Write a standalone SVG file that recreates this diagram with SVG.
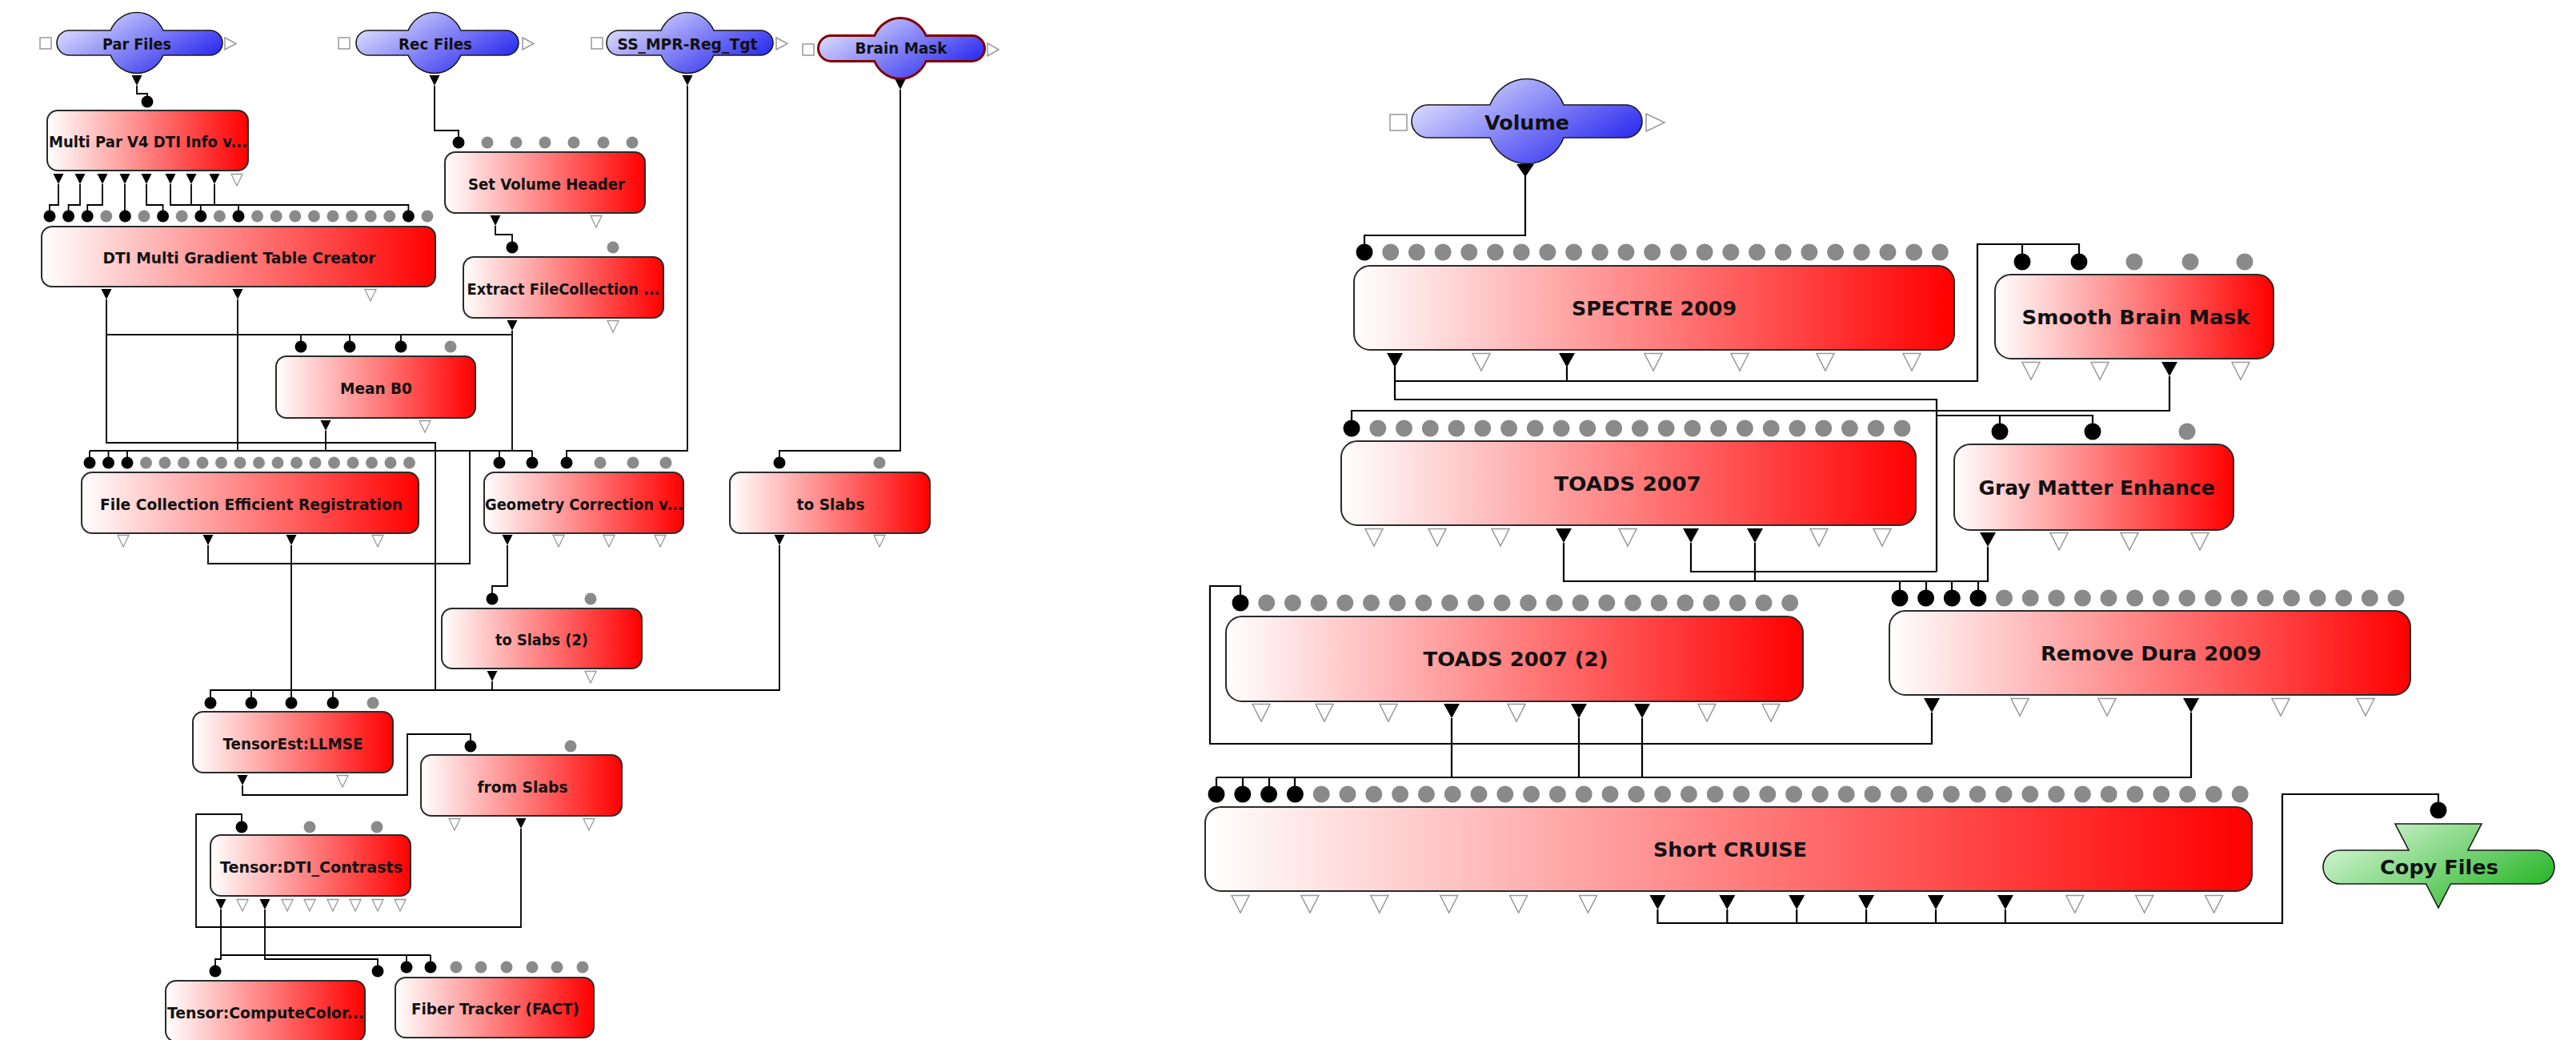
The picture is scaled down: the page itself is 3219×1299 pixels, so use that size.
<svg xmlns="http://www.w3.org/2000/svg" width="3219" height="1299" viewBox="0 0 3219 1299">
<style>
.box{stroke:#2b2b2b;stroke-width:2}
.inp{stroke:#1a1a1a;stroke-width:1.6}
.lt{font-family:"DejaVu Sans","Liberation Sans",sans-serif;font-weight:bold;font-size:19px;text-anchor:middle;fill:#111}
.rt{font-family:"DejaVu Sans","Liberation Sans",sans-serif;font-weight:bold;font-size:25px;text-anchor:middle;fill:#111}
.cl{fill:none;stroke:#000;stroke-width:1.8}
.cr{fill:none;stroke:#000;stroke-width:2.2}
.sq{fill:#fff;stroke:#999;stroke-width:1.5}
</style>
<defs>
<linearGradient id="gR" x1="0" y1="0" x2="1" y2="0"><stop offset="0" stop-color="#ffffff"/><stop offset="1" stop-color="#ff0000"/></linearGradient>
<linearGradient id="gB" x1="0" y1="0.2" x2="1" y2="0.8"><stop offset="0" stop-color="#e4e4ff"/><stop offset="1" stop-color="#1e1eee"/></linearGradient>
<linearGradient id="gG" x1="0" y1="0.2" x2="1" y2="0.8"><stop offset="0" stop-color="#d8f6d8"/><stop offset="1" stop-color="#1fb31f"/></linearGradient>
<circle id="a1" r="7.5" fill="#000"/>
<circle id="a0" r="7.5" fill="#8a8a8a"/>
<circle id="b1" r="10.5" fill="#000"/>
<circle id="b0" r="10.5" fill="#8a8a8a"/>
<path id="ts1" d="M-6.5,0H6.5L0,13Z" fill="#000"/>
<path id="ts0" d="M-7,0.5H7L0,15Z" fill="#fff" stroke="#999" stroke-width="1.3"/>
<path id="tl1" d="M-10,0H10L0,18Z" fill="#000"/>
<path id="tl0" d="M-11,0.5H11L0,22Z" fill="#fff" stroke="#999" stroke-width="1.5"/>
</defs>
<rect width="3219" height="1299" fill="#fff"/>

<g id="connectors">
<path class="cl" d="M171,107V117H184V127"/>
<path class="cl" d="M543,107V163H573V178"/>
<path class="cl" d="M859,107V563H708V578"/>
<path class="cl" d="M1125,112V563H974V578"/>
<path class="cl" d="M73,230V256H62V270"/>
<path class="cl" d="M100,230V256H85.6V270"/>
<path class="cl" d="M128,230V256H109.2V270"/>
<path class="cl" d="M156,230V270"/>
<path class="cl" d="M183,230V256H203.6V270"/>
<path class="cl" d="M213,230V256H250.8V270"/>
<path class="cl" d="M239,230V256H298V270"/>
<path class="cl" d="M268,230V256H510.4V270"/>
<path class="cl" d="M619,282V293H640V309"/>
<path class="cl" d="M640,413V563"/>
<path class="cl" d="M133,418H640"/>
<path class="cl" d="M376,418V433M437,418V433M501,418V433"/>
<path class="cl" d="M133,374V553H544V862"/>
<path class="cl" d="M297,374V563"/>
<path class="cl" d="M112,563H665M112,563V578M135.5,563V578M159,563V578M624,563V578M665,563V578"/>
<path class="cl" d="M407,538V563"/>
<path class="cl" d="M260,681V704H587V563"/>
<path class="cl" d="M364,681V878"/>
<path class="cl" d="M634,681V732H615V748"/>
<path class="cl" d="M974,681V862H263V878"/>
<path class="cl" d="M615,851V862"/>
<path class="cl" d="M314,862V878M416,862V878"/>
<path class="cl" d="M303,981V993H509V917H588V932"/>
<path class="cl" d="M651,1035V1158H245V1017H302V1033"/>
<path class="cl" d="M276,1136V1198H269V1213M276,1193H538M508,1193V1208M538,1193V1208"/>
<path class="cl" d="M331,1136V1198H472V1213"/>

<path class="cr" d="M1906,220V294H1705V315"/>
<path class="cr" d="M1743,458V499H2420V714"/>
<path class="cr" d="M1958,458V476"/>
<path class="cr" d="M1743,476H2471V305H2598V327M2527,305V327"/>
<path class="cr" d="M2420,519H2615V539M2499,519V539"/>
<path class="cr" d="M2711,470V513H1689V535"/>
<path class="cr" d="M2113,678V714H2420"/>
<path class="cr" d="M1954,678V726H2484V683M2193,678V726"/>
<path class="cr" d="M2374,726V747M2407,726V747M2439,726V747M2472,726V747"/>
<path class="cr" d="M2414,890V929H1512V732H1550V753"/>
<path class="cr" d="M1520,971H2738V890M1814,897V971M1973,897V971M2052,897V971"/>
<path class="cr" d="M1520,971V992M1553,971V992M1586,971V992M1618,971V992"/>
<path class="cr" d="M2071.4,1136V1153H2852V992H3047V1012"/>
<path class="cr" d="M2158.3,1136V1153M2245.2,1136V1153M2332.1,1136V1153M2419,1136V1153M2505.9,1136V1153"/>
</g>

<g id="par-files">
<rect class="sq" x="50" y="47" width="14" height="14"/>
<path class="sq" d="M281,47L295,54.5L281,62Z"/>
<path class="inp" fill="url(#gB)" d="M86.5,38H138.1A36,38 0 0 1 203.9,38H262.5A15.5,15.5 0 0 1 262.5,69H203.9A36,38 0 0 1 138.1,69H86.5A15.5,15.5 0 0 1 86.5,38Z"/>
<text class="lt" x="171" y="62" textLength="86" lengthAdjust="spacingAndGlyphs">Par Files</text>
<use href="#ts1" x="171" y="94"/>
</g>

<g id="rec-files">
<rect class="sq" x="423" y="47" width="14" height="14"/>
<path class="sq" d="M653,47L667,54.5L653,62Z"/>
<path class="inp" fill="url(#gB)" d="M460.5,38H510.1A36,38 0 0 1 575.9,38H632.5A15.5,15.5 0 0 1 632.5,69H575.9A36,38 0 0 1 510.1,69H460.5A15.5,15.5 0 0 1 460.5,38Z"/>
<text class="lt" x="544" y="62" textLength="92" lengthAdjust="spacingAndGlyphs">Rec Files</text>
<use href="#ts1" x="543" y="94"/>
</g>

<g id="ss-mpr-reg-tgt">
<rect class="sq" x="739" y="47" width="14" height="14"/>
<path class="sq" d="M970,47L984,54.5L970,62Z"/>
<path class="inp" fill="url(#gB)" d="M773.5,38H826.1A36,38 0 0 1 891.9,38H950.5A15.5,15.5 0 0 1 950.5,69H891.9A36,38 0 0 1 826.1,69H773.5A15.5,15.5 0 0 1 773.5,38Z"/>
<text class="lt" x="859" y="62" textLength="175" lengthAdjust="spacingAndGlyphs">SS_MPR-Reg_Tgt</text>
<use href="#ts1" x="859" y="94"/>
</g>

<g id="brain-mask">
<rect class="sq" x="1003" y="55" width="14" height="14"/>
<path class="sq" d="M1234,54L1248,62L1234,70Z"/>
<path fill="url(#gB)" stroke="#800000" stroke-width="3" d="M1038.5,44.5H1092.8A35.5,38 0 0 1 1157.2,44.5H1214.5A16,16 0 0 1 1214.5,76.5H1157.2A35.5,38 0 0 1 1092.8,76.5H1038.5A16,16 0 0 1 1038.5,44.5Z"/>
<text class="lt" x="1126" y="67" textLength="115" lengthAdjust="spacingAndGlyphs">Brain Mask</text>
<use href="#ts1" x="1125" y="99"/>
</g>

<g id="multi-par">
<rect class="box" fill="url(#gR)" x="59" y="138" width="251" height="75" rx="13"/>
<text class="lt" x="185" y="184" textLength="248" lengthAdjust="spacingAndGlyphs">Multi Par V4 DTI Info v...</text>
<use href="#a1" x="184" y="127"/>
<use href="#ts1" x="73" y="217"/><use href="#ts1" x="100" y="217"/><use href="#ts1" x="128" y="217"/><use href="#ts1" x="156" y="217"/><use href="#ts1" x="183" y="217"/><use href="#ts1" x="213" y="217"/><use href="#ts1" x="239" y="217"/><use href="#ts1" x="268" y="217"/><use href="#ts0" x="296" y="217"/>
</g>

<g id="dti-multi-gradient">
<rect class="box" fill="url(#gR)" x="52" y="283" width="492" height="75" rx="13"/>
<text class="lt" x="299" y="329" textLength="341" lengthAdjust="spacingAndGlyphs">DTI Multi Gradient Table Creator</text>
<use href="#a1" x="62" y="270"/><use href="#a1" x="85.6" y="270"/><use href="#a1" x="109.2" y="270"/><use href="#a0" x="132.8" y="270"/><use href="#a1" x="156.4" y="270"/><use href="#a0" x="180" y="270"/><use href="#a1" x="203.6" y="270"/><use href="#a0" x="227.2" y="270"/><use href="#a1" x="250.8" y="270"/><use href="#a0" x="274.4" y="270"/><use href="#a1" x="298" y="270"/><use href="#a0" x="321.6" y="270"/><use href="#a0" x="345.2" y="270"/><use href="#a0" x="368.8" y="270"/><use href="#a0" x="392.4" y="270"/><use href="#a0" x="416" y="270"/><use href="#a0" x="439.6" y="270"/><use href="#a0" x="463.2" y="270"/><use href="#a0" x="486.8" y="270"/><use href="#a1" x="510.4" y="270"/><use href="#a0" x="534" y="270"/>
<use href="#ts1" x="133" y="361"/><use href="#ts1" x="297" y="361"/><use href="#ts0" x="463" y="361"/>
</g>

<g id="set-volume-header">
<rect class="box" fill="url(#gR)" x="556" y="190" width="250" height="76" rx="13"/>
<text class="lt" x="683" y="237" textLength="196" lengthAdjust="spacingAndGlyphs">Set Volume Header</text>
<use href="#a1" x="573" y="178"/><use href="#a0" x="609" y="178"/><use href="#a0" x="645" y="178"/><use href="#a0" x="681" y="178"/><use href="#a0" x="717" y="178"/><use href="#a0" x="754" y="178"/><use href="#a0" x="790" y="178"/>
<use href="#ts1" x="619" y="269"/><use href="#ts0" x="745" y="269"/>
</g>

<g id="extract-filecollection">
<rect class="box" fill="url(#gR)" x="579" y="321" width="250" height="76" rx="13"/>
<text class="lt" x="704" y="368" textLength="241" lengthAdjust="spacingAndGlyphs">Extract FileCollection ...</text>
<use href="#a1" x="640" y="309"/><use href="#a0" x="766" y="309"/>
<use href="#ts1" x="640" y="400"/><use href="#ts0" x="766" y="400"/>
</g>

<g id="mean-b0">
<rect class="box" fill="url(#gR)" x="345" y="445" width="249" height="77" rx="13"/>
<text class="lt" x="470" y="492" textLength="90" lengthAdjust="spacingAndGlyphs">Mean B0</text>
<use href="#a1" x="376" y="433"/><use href="#a1" x="437" y="433"/><use href="#a1" x="501" y="433"/><use href="#a0" x="563" y="433"/>
<use href="#ts1" x="407" y="525"/><use href="#ts0" x="531" y="525"/>
</g>

<g id="file-collection-registration">
<rect class="box" fill="url(#gR)" x="102" y="590" width="421" height="76" rx="13"/>
<text class="lt" x="314" y="637" textLength="378" lengthAdjust="spacingAndGlyphs">File Collection Efficient Registration</text>
<use href="#a1" x="112" y="578"/><use href="#a1" x="135.5" y="578"/><use href="#a1" x="159" y="578"/><use href="#a0" x="182.5" y="578"/><use href="#a0" x="206" y="578"/><use href="#a0" x="229.5" y="578"/><use href="#a0" x="253" y="578"/><use href="#a0" x="276.5" y="578"/><use href="#a0" x="300" y="578"/><use href="#a0" x="323.5" y="578"/><use href="#a0" x="347" y="578"/><use href="#a0" x="370.5" y="578"/><use href="#a0" x="394" y="578"/><use href="#a0" x="417.5" y="578"/><use href="#a0" x="441" y="578"/><use href="#a0" x="464.5" y="578"/><use href="#a0" x="488" y="578"/><use href="#a0" x="511.5" y="578"/>
<use href="#ts0" x="154" y="668"/><use href="#ts1" x="260" y="668"/><use href="#ts1" x="364" y="668"/><use href="#ts0" x="472" y="668"/>
</g>

<g id="geometry-correction">
<rect class="box" fill="url(#gR)" x="605" y="590" width="249" height="76" rx="13"/>
<text class="lt" x="730" y="637" textLength="248" lengthAdjust="spacingAndGlyphs">Geometry Correction v...</text>
<use href="#a1" x="624" y="578"/><use href="#a1" x="665" y="578"/><use href="#a1" x="708" y="578"/><use href="#a0" x="750" y="578"/><use href="#a0" x="791" y="578"/><use href="#a0" x="832" y="578"/>
<use href="#ts1" x="634" y="668"/><use href="#ts0" x="698" y="668"/><use href="#ts0" x="761" y="668"/><use href="#ts0" x="825" y="668"/>
</g>

<g id="to-slabs">
<rect class="box" fill="url(#gR)" x="912" y="590" width="250" height="76" rx="13"/>
<text class="lt" x="1038" y="637" textLength="85" lengthAdjust="spacingAndGlyphs">to Slabs</text>
<use href="#a1" x="974" y="578"/><use href="#a0" x="1099" y="578"/>
<use href="#ts1" x="974" y="668"/><use href="#ts0" x="1099" y="668"/>
</g>

<g id="to-slabs-2">
<rect class="box" fill="url(#gR)" x="552" y="760" width="250" height="75" rx="13"/>
<text class="lt" x="677" y="806" textLength="116" lengthAdjust="spacingAndGlyphs">to Slabs (2)</text>
<use href="#a1" x="615" y="748"/><use href="#a0" x="738" y="748"/>
<use href="#ts1" x="615" y="838"/><use href="#ts0" x="738" y="838"/>
</g>

<g id="tensorest-llmse">
<rect class="box" fill="url(#gR)" x="241" y="889" width="250" height="76" rx="13"/>
<text class="lt" x="366" y="936" textLength="175" lengthAdjust="spacingAndGlyphs">TensorEst:LLMSE</text>
<use href="#a1" x="263" y="878"/><use href="#a1" x="314" y="878"/><use href="#a1" x="364" y="878"/><use href="#a1" x="416" y="878"/><use href="#a0" x="466" y="878"/>
<use href="#ts1" x="303" y="968"/><use href="#ts0" x="428" y="968"/>
</g>

<g id="from-slabs">
<rect class="box" fill="url(#gR)" x="526" y="943" width="251" height="76" rx="13"/>
<text class="lt" x="653" y="990" textLength="113" lengthAdjust="spacingAndGlyphs">from Slabs</text>
<use href="#a1" x="588" y="932"/><use href="#a0" x="713" y="932"/>
<use href="#ts0" x="568" y="1022"/><use href="#ts1" x="651" y="1022"/><use href="#ts0" x="736" y="1022"/>
</g>

<g id="tensor-dti-contrasts">
<rect class="box" fill="url(#gR)" x="263" y="1043" width="250" height="76" rx="13"/>
<text class="lt" x="389" y="1090" textLength="228" lengthAdjust="spacingAndGlyphs">Tensor:DTI_Contrasts</text>
<use href="#a1" x="302" y="1033"/><use href="#a0" x="387" y="1033"/><use href="#a0" x="471" y="1033"/>
<use href="#ts1" x="276" y="1123"/><use href="#ts0" x="303" y="1123"/><use href="#ts1" x="331" y="1123"/><use href="#ts0" x="359" y="1123"/><use href="#ts0" x="387" y="1123"/><use href="#ts0" x="416" y="1123"/><use href="#ts0" x="444" y="1123"/><use href="#ts0" x="472" y="1123"/><use href="#ts0" x="500" y="1123"/>
</g>

<g id="tensor-computecolor">
<rect class="box" fill="url(#gR)" x="207" y="1225" width="249" height="76" rx="13"/>
<text class="lt" x="332" y="1272" textLength="246" lengthAdjust="spacingAndGlyphs">Tensor:ComputeColor...</text>
<use href="#a1" x="269" y="1213"/><use href="#a1" x="472" y="1213"/>
</g>

<g id="fiber-tracker">
<rect class="box" fill="url(#gR)" x="494" y="1221" width="248" height="75" rx="13"/>
<text class="lt" x="619" y="1267" textLength="210" lengthAdjust="spacingAndGlyphs">Fiber Tracker (FACT)</text>
<use href="#a1" x="508" y="1208"/><use href="#a1" x="538" y="1208"/><use href="#a0" x="570" y="1208"/><use href="#a0" x="601" y="1208"/><use href="#a0" x="633" y="1208"/><use href="#a0" x="665" y="1208"/><use href="#a0" x="696" y="1208"/><use href="#a0" x="728" y="1208"/>
</g>

<g id="volume">
<rect class="sq" x="1737" y="143" width="21" height="20"/>
<path class="sq" d="M2057,142L2080,153L2057,164Z"/>
<path class="inp" fill="url(#gB)" d="M1784.5,131H1861.9A50,53 0 0 1 1954.1,131H2031.5A20.5,20.5 0 0 1 2031.5,172H1954.1A50,53 0 0 1 1861.9,172H1784.5A20.5,20.5 0 0 1 1784.5,131Z"/>
<text class="rt" x="1908" y="162" textLength="106" lengthAdjust="spacingAndGlyphs">Volume</text>
<path d="M1895,205H1917L1906,221Z" fill="#000"/>
</g>

<g id="spectre-2009">
<rect class="box" fill="url(#gR)" x="1692" y="332" width="750" height="105" rx="20"/>
<text class="rt" x="2067" y="394" textLength="206" lengthAdjust="spacingAndGlyphs">SPECTRE 2009</text>
<use href="#b1" x="1705" y="315"/><use href="#b0" x="1737.7" y="315"/><use href="#b0" x="1770.4" y="315"/><use href="#b0" x="1803.1" y="315"/><use href="#b0" x="1835.8" y="315"/><use href="#b0" x="1868.5" y="315"/><use href="#b0" x="1901.2" y="315"/><use href="#b0" x="1933.9" y="315"/><use href="#b0" x="1966.6" y="315"/><use href="#b0" x="1999.3" y="315"/><use href="#b0" x="2032" y="315"/><use href="#b0" x="2064.7" y="315"/><use href="#b0" x="2097.4" y="315"/><use href="#b0" x="2130.1" y="315"/><use href="#b0" x="2162.8" y="315"/><use href="#b0" x="2195.5" y="315"/><use href="#b0" x="2228.2" y="315"/><use href="#b0" x="2260.9" y="315"/><use href="#b0" x="2293.6" y="315"/><use href="#b0" x="2326.3" y="315"/><use href="#b0" x="2359" y="315"/><use href="#b0" x="2391.7" y="315"/><use href="#b0" x="2424.4" y="315"/>
<use href="#tl1" x="1743" y="441"/><use href="#tl0" x="1851" y="441"/><use href="#tl1" x="1958" y="441"/><use href="#tl0" x="2066" y="441"/><use href="#tl0" x="2174" y="441"/><use href="#tl0" x="2281" y="441"/><use href="#tl0" x="2389" y="441"/>
</g>

<g id="smooth-brain-mask">
<rect class="box" fill="url(#gR)" x="2493" y="343" width="348" height="105" rx="20"/>
<text class="rt" x="2669" y="405" textLength="285" lengthAdjust="spacingAndGlyphs">Smooth Brain Mask</text>
<use href="#b1" x="2527" y="327"/><use href="#b1" x="2598" y="327"/><use href="#b0" x="2667" y="327"/><use href="#b0" x="2737" y="327"/><use href="#b0" x="2805" y="327"/>
<use href="#tl0" x="2538" y="452"/><use href="#tl0" x="2624" y="452"/><use href="#tl1" x="2711" y="452"/><use href="#tl0" x="2800" y="452"/>
</g>

<g id="toads-2007">
<rect class="box" fill="url(#gR)" x="1676" y="551" width="718" height="105" rx="20"/>
<text class="rt" x="2034" y="613" textLength="184" lengthAdjust="spacingAndGlyphs">TOADS 2007</text>
<use href="#b1" x="1689" y="535"/><use href="#b0" x="1721.8" y="535"/><use href="#b0" x="1754.5" y="535"/><use href="#b0" x="1787.3" y="535"/><use href="#b0" x="1820" y="535"/><use href="#b0" x="1852.8" y="535"/><use href="#b0" x="1885.6" y="535"/><use href="#b0" x="1918.3" y="535"/><use href="#b0" x="1951.1" y="535"/><use href="#b0" x="1983.8" y="535"/><use href="#b0" x="2016.6" y="535"/><use href="#b0" x="2049.4" y="535"/><use href="#b0" x="2082.1" y="535"/><use href="#b0" x="2114.9" y="535"/><use href="#b0" x="2147.6" y="535"/><use href="#b0" x="2180.4" y="535"/><use href="#b0" x="2213.2" y="535"/><use href="#b0" x="2245.9" y="535"/><use href="#b0" x="2278.7" y="535"/><use href="#b0" x="2311.4" y="535"/><use href="#b0" x="2344.2" y="535"/><use href="#b0" x="2377" y="535"/>
<use href="#tl0" x="1717" y="660"/><use href="#tl0" x="1796" y="660"/><use href="#tl0" x="1875" y="660"/><use href="#tl1" x="1954" y="660"/><use href="#tl0" x="2034" y="660"/><use href="#tl1" x="2113" y="660"/><use href="#tl1" x="2193" y="660"/><use href="#tl0" x="2273" y="660"/><use href="#tl0" x="2352" y="660"/>
</g>

<g id="gray-matter-enhance">
<rect class="box" fill="url(#gR)" x="2442" y="555" width="349" height="107" rx="20"/>
<text class="rt" x="2620" y="618" textLength="295" lengthAdjust="spacingAndGlyphs">Gray Matter Enhance</text>
<use href="#b1" x="2499" y="539"/><use href="#b1" x="2615" y="539"/><use href="#b0" x="2733" y="539"/>
<use href="#tl1" x="2484" y="665"/><use href="#tl0" x="2573" y="665"/><use href="#tl0" x="2661" y="665"/><use href="#tl0" x="2749" y="665"/>
</g>

<g id="toads-2007-2">
<rect class="box" fill="url(#gR)" x="1532" y="770" width="721" height="106" rx="20"/>
<text class="rt" x="1894" y="832" textLength="231" lengthAdjust="spacingAndGlyphs">TOADS 2007 (2)</text>
<use href="#b1" x="1550" y="753"/><use href="#b0" x="1582.7" y="753"/><use href="#b0" x="1615.4" y="753"/><use href="#b0" x="1648.1" y="753"/><use href="#b0" x="1680.8" y="753"/><use href="#b0" x="1713.5" y="753"/><use href="#b0" x="1746.2" y="753"/><use href="#b0" x="1778.9" y="753"/><use href="#b0" x="1811.6" y="753"/><use href="#b0" x="1844.3" y="753"/><use href="#b0" x="1877" y="753"/><use href="#b0" x="1909.7" y="753"/><use href="#b0" x="1942.4" y="753"/><use href="#b0" x="1975.1" y="753"/><use href="#b0" x="2007.8" y="753"/><use href="#b0" x="2040.5" y="753"/><use href="#b0" x="2073.2" y="753"/><use href="#b0" x="2105.9" y="753"/><use href="#b0" x="2138.6" y="753"/><use href="#b0" x="2171.3" y="753"/><use href="#b0" x="2204" y="753"/><use href="#b0" x="2236.7" y="753"/>
<use href="#tl0" x="1576" y="879"/><use href="#tl0" x="1655" y="879"/><use href="#tl0" x="1735" y="879"/><use href="#tl1" x="1814" y="879"/><use href="#tl0" x="1895" y="879"/><use href="#tl1" x="1973" y="879"/><use href="#tl1" x="2052" y="879"/><use href="#tl0" x="2133" y="879"/><use href="#tl0" x="2213" y="879"/>
</g>

<g id="remove-dura-2009">
<rect class="box" fill="url(#gR)" x="2361" y="763" width="651" height="105" rx="20"/>
<text class="rt" x="2688" y="825" textLength="276" lengthAdjust="spacingAndGlyphs">Remove Dura 2009</text>
<use href="#b1" x="2374" y="747"/><use href="#b1" x="2406.6" y="747"/><use href="#b1" x="2439.3" y="747"/><use href="#b1" x="2471.9" y="747"/><use href="#b0" x="2504.5" y="747"/><use href="#b0" x="2537.2" y="747"/><use href="#b0" x="2569.8" y="747"/><use href="#b0" x="2602.4" y="747"/><use href="#b0" x="2635" y="747"/><use href="#b0" x="2667.7" y="747"/><use href="#b0" x="2700.3" y="747"/><use href="#b0" x="2732.9" y="747"/><use href="#b0" x="2765.6" y="747"/><use href="#b0" x="2798.2" y="747"/><use href="#b0" x="2830.8" y="747"/><use href="#b0" x="2863.5" y="747"/><use href="#b0" x="2896.1" y="747"/><use href="#b0" x="2928.7" y="747"/><use href="#b0" x="2961.3" y="747"/><use href="#b0" x="2994" y="747"/>
<use href="#tl1" x="2414" y="872"/><use href="#tl0" x="2524" y="872"/><use href="#tl0" x="2633" y="872"/><use href="#tl1" x="2738" y="872"/><use href="#tl0" x="2850" y="872"/><use href="#tl0" x="2956" y="872"/>
</g>

<g id="short-cruise">
<rect class="box" fill="url(#gR)" x="1506" y="1008" width="1308" height="105" rx="20"/>
<text class="rt" x="2162" y="1070" textLength="192" lengthAdjust="spacingAndGlyphs">Short CRUISE</text>
<use href="#b1" x="1520" y="992"/><use href="#b1" x="1552.8" y="992"/><use href="#b1" x="1585.6" y="992"/><use href="#b1" x="1618.4" y="992"/><use href="#b0" x="1651.2" y="992"/><use href="#b0" x="1684" y="992"/><use href="#b0" x="1716.8" y="992"/><use href="#b0" x="1749.6" y="992"/><use href="#b0" x="1782.4" y="992"/><use href="#b0" x="1815.2" y="992"/><use href="#b0" x="1848" y="992"/><use href="#b0" x="1880.8" y="992"/><use href="#b0" x="1913.6" y="992"/><use href="#b0" x="1946.4" y="992"/><use href="#b0" x="1979.2" y="992"/><use href="#b0" x="2012" y="992"/><use href="#b0" x="2044.8" y="992"/><use href="#b0" x="2077.6" y="992"/><use href="#b0" x="2110.4" y="992"/><use href="#b0" x="2143.2" y="992"/><use href="#b0" x="2176" y="992"/><use href="#b0" x="2208.8" y="992"/><use href="#b0" x="2241.6" y="992"/><use href="#b0" x="2274.4" y="992"/><use href="#b0" x="2307.2" y="992"/><use href="#b0" x="2340" y="992"/><use href="#b0" x="2372.8" y="992"/><use href="#b0" x="2405.6" y="992"/><use href="#b0" x="2438.4" y="992"/><use href="#b0" x="2471.2" y="992"/><use href="#b0" x="2504" y="992"/><use href="#b0" x="2536.8" y="992"/><use href="#b0" x="2569.6" y="992"/><use href="#b0" x="2602.4" y="992"/><use href="#b0" x="2635.2" y="992"/><use href="#b0" x="2668" y="992"/><use href="#b0" x="2700.8" y="992"/><use href="#b0" x="2733.6" y="992"/><use href="#b0" x="2766.4" y="992"/><use href="#b0" x="2799.2" y="992"/>
<use href="#tl0" x="1550" y="1118"/><use href="#tl0" x="1636.9" y="1118"/><use href="#tl0" x="1723.8" y="1118"/><use href="#tl0" x="1810.7" y="1118"/><use href="#tl0" x="1897.6" y="1118"/><use href="#tl0" x="1984.5" y="1118"/><use href="#tl1" x="2071.4" y="1118"/><use href="#tl1" x="2158.3" y="1118"/><use href="#tl1" x="2245.2" y="1118"/><use href="#tl1" x="2332.1" y="1118"/><use href="#tl1" x="2419" y="1118"/><use href="#tl1" x="2505.9" y="1118"/><use href="#tl0" x="2592.8" y="1118"/><use href="#tl0" x="2679.7" y="1118"/><use href="#tl0" x="2766.6" y="1118"/>
</g>

<g id="copy-files">
<path class="inp" fill="url(#gG)" d="M2993,1029H3101L3084,1062H3171A21,21 0 0 1 3171,1104H3062.4L3047,1134L3031.6,1104H2924A21,21 0 0 1 2924,1062H3010Z"/>
<text class="rt" x="3048" y="1092" textLength="148" lengthAdjust="spacingAndGlyphs">Copy Files</text>
<use href="#b1" x="3047" y="1012"/>
</g>
</svg>
